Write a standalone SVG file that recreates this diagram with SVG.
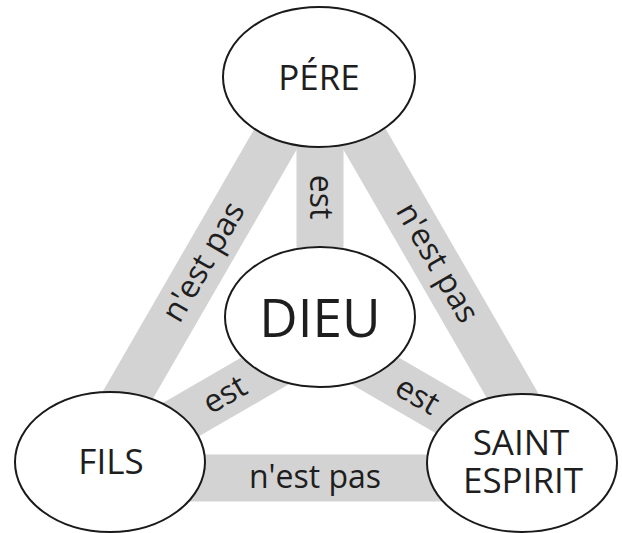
<svg xmlns="http://www.w3.org/2000/svg" width="622" height="533" viewBox="0 0 622 533">
<style>
.band{stroke:#d3d3d3;stroke-width:47;fill:none;stroke-linecap:butt}
.node{fill:#fff;stroke:#1a1a1a;stroke-width:2}
.lbl{font-family:"Open Sans","Noto Sans",sans-serif;font-size:32px;fill:#1e1e1e;text-anchor:middle}
.nt{font-family:"Open Sans","Noto Sans",sans-serif;font-size:35px;fill:#1e1e1e;text-anchor:middle}
</style>
<rect width="622" height="533" fill="#fff"/>
<g id="connectors">
<line class="band" x1="320" y1="62" x2="80" y2="478"/>
<line class="band" x1="320" y1="62" x2="560" y2="478"/>
<line class="band" x1="80" y1="478" x2="560" y2="478"/>
<line class="band" x1="320" y1="62" x2="320" y2="339"/>
<line class="band" x1="320" y1="339" x2="80" y2="478"/>
<line class="band" x1="320" y1="339" x2="560" y2="478"/>
<text class="lbl" transform="translate(204,262) rotate(-60)" y="10">n'est pas</text>
<text class="lbl" transform="translate(437,263) rotate(60)" y="10">n'est pas</text>
<text class="lbl" transform="translate(315,478)" y="10">n'est pas</text>
<text class="lbl" transform="translate(320,197) rotate(90)" y="10">est</text>
<text class="lbl" transform="translate(225,395) rotate(-30)" y="10">est</text>
<text class="lbl" transform="translate(417,396) rotate(30)" y="10">est</text>
</g>
<g id="pere">
<ellipse class="node" cx="319" cy="77" rx="96" ry="70"/>
<text class="nt" x="319" y="90">PÉRE</text>
</g>
<g id="dieu">
<ellipse class="node" cx="320" cy="317" rx="95" ry="70"/>
<text class="nt" x="320" y="337" style="font-size:53px">DIEU</text>
</g>
<g id="fils">
<ellipse class="node" cx="110" cy="462" rx="95" ry="70"/>
<text class="nt" x="111" y="474">FILS</text>
</g>
<g id="saint">
<ellipse class="node" cx="522" cy="463" rx="95" ry="69"/>
<text class="nt" x="521" y="455">SAINT</text>
<text class="nt" x="523" y="493">ESPIRIT</text>
</g>
</svg>
